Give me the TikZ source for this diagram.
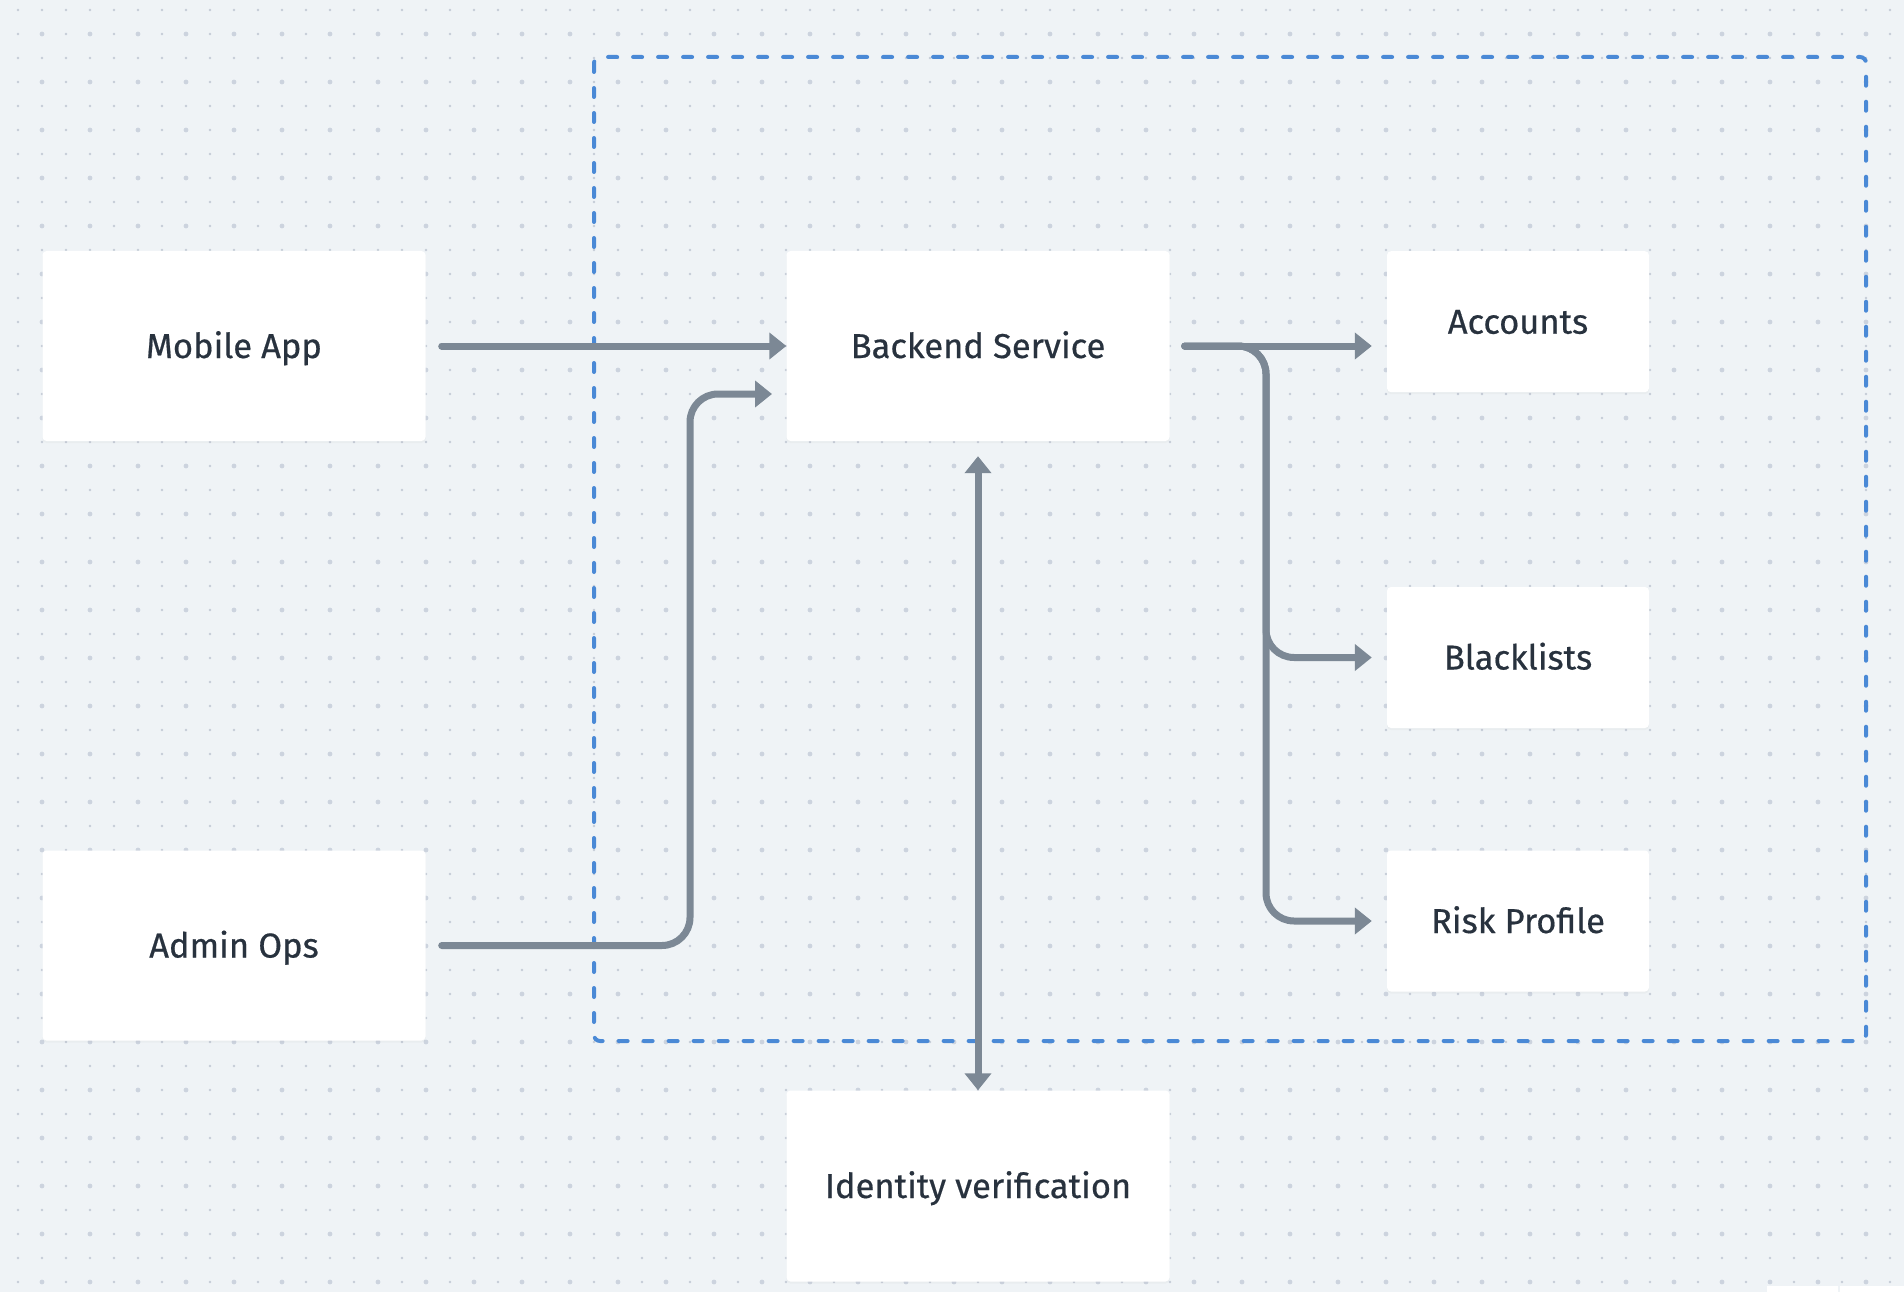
\documentclass[tikz,border=0pt]{standalone}
\usepackage{fontspec}
\setmainfont{Fira Sans}
\newfontfamily\labfont{Fira Sans}[FakeBold=0.5]
\usetikzlibrary{arrows.meta,shadows}
\definecolor{bgc}{HTML}{EFF3F6}
\definecolor{dotc}{HTML}{C5CCD6}
\definecolor{dotl}{HTML}{CCD3DE}
\definecolor{txtc}{HTML}{28323E}
\definecolor{linec}{HTML}{7C8895}
\definecolor{groupc}{HTML}{4A89D6}
\tikzset{
  box/.style={draw=none, fill=white, rounded corners=4pt, inner sep=0pt,
    text=txtc, font=\labfont\fontsize{34.5}{40}\selectfont,
    text height=29pt, text depth=5pt,
    drop shadow={opacity=0.05, shadow xshift=0pt, shadow yshift=-2pt}},
  bigbox/.style={box, minimum width=383pt, minimum height=190pt},
  smallbox/.style={box, minimum width=262pt, minimum height=141pt},
  conn/.style={draw=linec, line width=7pt, line cap=round, line join=round,
    -{Triangle[length=17pt,width=26pt]}},
  group/.style={draw=groupc, line width=4pt, line cap=round,
    dash pattern=on 9pt off 16pt, rounded corners=6pt}
}
\begin{document}
\begin{tikzpicture}[x=1pt,y=-1pt]
\fill[bgc] (0,0) rectangle (1904,1292);
\useasboundingbox (0,0) rectangle (1904,1292);
% dot grid
\foreach \j in {0,...,53}{
  \foreach \i in {0,...,78}{
    \fill[dotc] (18+24*\i,10+24*\j) circle (1.3pt);
  }
}
\foreach \j in {0,...,26}{
  \foreach \i in {0,...,39}{
    \fill[dotl] (42+48*\i,34+48*\j) circle (2.4pt);
  }
}
% group
\draw[group] (594,57) rectangle (1866,1041);
% nodes
\node[bigbox] (mob) at (234,346) {Mobile App};
\node[bigbox] (adm) at (234,945.5) {Admin Ops};
\node[bigbox] (bck) at (978,346) {Backend Service};
\node[smallbox] (acc) at (1518,321.7) {Accounts};
\node[smallbox] (bla) at (1518,657.5) {Blacklists};
\node[smallbox] (rsk) at (1518,921) {Risk Profile};
\node[bigbox, minimum height=191pt] (idv) at (978,1186) {Identity verification};
\coordinate (admin-in) at (787,394);
% connectors
\draw[conn, shorten <=16pt] (mob) -- (bck);
\draw[conn, rounded corners=28pt, shorten <=16pt, shorten >=15pt] (adm.east) -| (690,394) -- (admin-in);
\draw[conn, shorten <=15pt, shorten >=15pt] (bck.east) -- (bck.east -| acc.west);
\draw[conn, rounded corners=28pt, shorten <=15pt, shorten >=15pt] (bck.east) -| (1266,657.5) -- (bla.west);
\draw[conn, rounded corners=28pt, shorten <=15pt, shorten >=15pt] (bck.east) -| (1266,921) -- (rsk.west);
\draw[conn, {Triangle[length=17pt,width=26pt]}-{Triangle[length=17pt,width=26pt]}, shorten <=15pt] (bck) -- (idv);
% partial element at bottom edge
\fill[white] (1767,1286) rectangle (1838,1292);
\fill[white] (1840,1286) rectangle (1904,1292);
\end{tikzpicture}
\end{document}
